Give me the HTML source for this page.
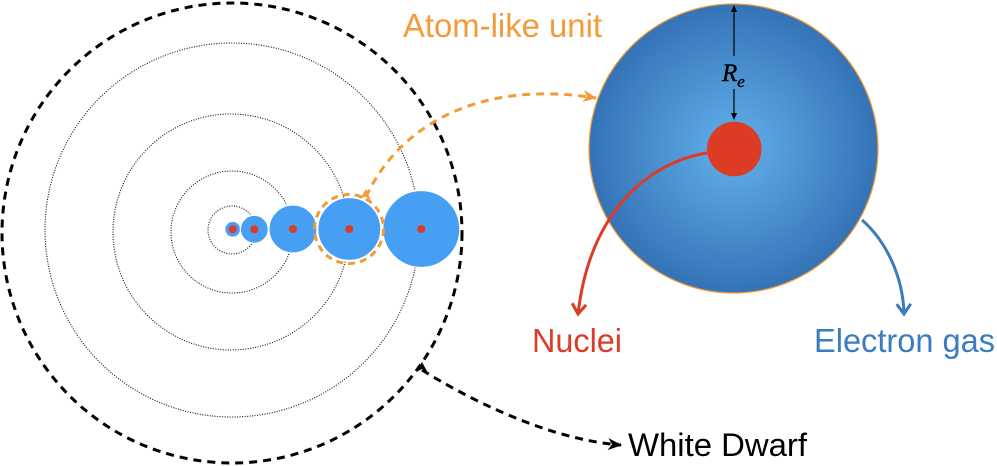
<!DOCTYPE html>
<html>
<head>
<meta charset="utf-8">
<style>
html,body{margin:0;padding:0;background:#fff;}
svg{display:block;}
text{font-family:"Liberation Sans",Arial,sans-serif;}
</style>
</head>
<body>
<svg width="997" height="466" viewBox="0 0 997 466" xmlns="http://www.w3.org/2000/svg">
  <defs>
    <radialGradient id="g1" cx="0.5" cy="0.5" r="0.5">
      <stop offset="0" stop-color="#63b1eb"/>
      <stop offset="1" stop-color="#3473b6"/>
    </radialGradient>
    <marker id="mO" markerUnits="userSpaceOnUse" markerWidth="16" markerHeight="14" refX="13" refY="7" orient="auto">
      <path d="M0,1 L14,7 L0,13 L4,7 Z" fill="#f29b38"/>
    </marker>
    <marker id="mK" markerUnits="userSpaceOnUse" markerWidth="16" markerHeight="14" refX="13" refY="7" orient="auto">
      <path d="M0,1 L14,7 L0,13 L4,7 Z" fill="#000"/>
    </marker>
    <marker id="mR" markerUnits="userSpaceOnUse" markerWidth="18" markerHeight="18" refX="13" refY="9" orient="auto">
      <path d="M3,2 L13,9 L3,16" fill="none" stroke="#dd3b26" stroke-width="3"/>
    </marker>
    <marker id="mB" markerUnits="userSpaceOnUse" markerWidth="18" markerHeight="18" refX="13" refY="9" orient="auto">
      <path d="M3,2 L13,9 L3,16" fill="none" stroke="#3a7cc0" stroke-width="3"/>
    </marker>
  </defs>

  <!-- dotted orbits -->
  <g fill="none" stroke="#111" stroke-width="1.1" stroke-dasharray="1 1.5">
    <circle cx="232" cy="230" r="24"/>
    <circle cx="232" cy="232" r="61"/>
    <circle cx="231" cy="232" r="118"/>
    <circle cx="232" cy="230" r="187"/>
  </g>

  <!-- outer dashed white dwarf boundary -->
  <circle cx="232" cy="233" r="230" fill="none" stroke="#000" stroke-width="3" stroke-dasharray="8 6"/>

  <!-- blue cells -->
  <g fill="#479ff3" stroke="#fff" stroke-width="1.2">
    <circle cx="232.7" cy="229.3" r="8"/>
    <circle cx="254.3" cy="229.3" r="14"/>
    <circle cx="293" cy="229" r="24"/>
    <circle cx="349.3" cy="229" r="31.5"/>
    <circle cx="421.3" cy="229" r="38.5"/>
  </g>
  <g fill="#dd3b26">
    <circle cx="232.7" cy="229.3" r="4"/>
    <circle cx="254.3" cy="229.3" r="4"/>
    <circle cx="293" cy="229" r="4"/>
    <circle cx="349.3" cy="229" r="4"/>
    <circle cx="421.3" cy="229" r="4"/>
  </g>

  <!-- orange dashed selection circle -->
  <circle cx="349" cy="229" r="34.5" fill="none" stroke="#f29b38" stroke-width="3" stroke-dasharray="7 5"/>

  <!-- orange dashed connector -->
  <path d="M366,197 C 395,133 470,78 596,98" fill="none" stroke="#f29b38" stroke-width="3" stroke-dasharray="8 6" marker-end="url(#mO)"/>
  <path d="M360,199 L366,189 L371,201 L366,196 Z" fill="#f29b38"/>

  <!-- black dashed connector to White Dwarf -->
  <path d="M422,370 C 470,400 550,440 621,445" fill="none" stroke="#000" stroke-width="3" stroke-dasharray="8 6" marker-end="url(#mK)"/>
  <path d="M416,372 L422,362 L428,373 L422,369 Z" fill="#000"/>

  <!-- big atom-like unit -->
  <circle cx="733.5" cy="148.5" r="144.5" fill="url(#g1)" stroke="#f29b38" stroke-width="1.3"/>
  <circle cx="734.3" cy="149" r="27.3" fill="#dc3b25"/>

  <!-- R_e arrow -->
  <line x1="734" y1="10" x2="734" y2="56" stroke="#000" stroke-width="1.2"/>
  <path d="M734,5 L731,12 L737,12 Z" fill="#000"/>
  <line x1="734" y1="89" x2="734" y2="114" stroke="#000" stroke-width="1.2"/>
  <path d="M734,120 L731,113 L737,113 Z" fill="#000"/>
  <text x="722" y="81" font-style="italic" font-size="25" fill="#000" stroke="#000" stroke-width="0.4" style="font-family:'Liberation Serif',serif;">R<tspan font-size="17" dy="6">e</tspan></text>

  <!-- red curve to Nuclei -->
  <path d="M707,153 C 650,162 590,210 578,314" fill="none" stroke="#dd3b26" stroke-width="3" marker-end="url(#mR)"/>
  <!-- blue curve to Electron gas -->
  <path d="M862,220 C 885,240 903,275 904,314" fill="none" stroke="#3a7cc0" stroke-width="3" marker-end="url(#mB)"/>

  <!-- labels -->
  <text x="403" y="37" font-size="33" fill="#f29b38" textLength="199" lengthAdjust="spacingAndGlyphs">Atom-like unit</text>
  <text x="532" y="352" font-size="33" fill="#dd3b26" textLength="90" lengthAdjust="spacingAndGlyphs">Nuclei</text>
  <text x="814" y="352" font-size="33" fill="#3a7cc0" textLength="181" lengthAdjust="spacingAndGlyphs">Electron gas</text>
  <text x="628" y="456" font-size="32" fill="#000" textLength="179" lengthAdjust="spacingAndGlyphs">White Dwarf</text>
</svg>
</body>
</html>
